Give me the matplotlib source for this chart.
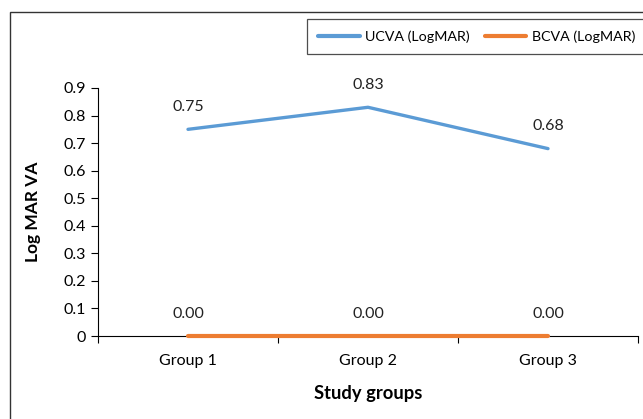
import matplotlib.pyplot as plt
from matplotlib.patches import Rectangle

plt.rcParams['font.family'] = ['Lato', 'DejaVu Sans']

grupos = ["Group 1", "Group 2", "Group 3"]
ucva = [0.75, 0.83, 0.68]
bcva = [0.00, 0.00, 0.00]

fig = plt.figure(figsize=(6.43, 4.19), dpi=100)
ax = fig.add_axes([98 / 643, 1 - 336 / 419, 540 / 643, 248 / 419])

x = range(len(grupos))
ax.plot(x, ucva, color="#5B9BD5", linewidth=2.4, label="UCVA (LogMAR)",
        solid_capstyle="round", clip_on=False)
ax.plot(x, bcva, color="#ED7D31", linewidth=3.0, label="BCVA (LogMAR)",
        solid_capstyle="round", clip_on=False, zorder=3)

# rótulos de valor acima de cada ponto
for i in x:
    ax.annotate(f"{ucva[i]:.2f}", (i, ucva[i]), xytext=(0, 16), textcoords="offset points",
                ha="center", va="center", fontsize=11.5, color="#222222")
    ax.annotate(f"{bcva[i]:.2f}", (i, bcva[i]), xytext=(0, 16), textcoords="offset points",
                ha="center", va="center", fontsize=11.5, color="#222222")

ax.set_xlim(-0.5, 2.5)
ax.set_ylim(0, 0.9)
ax.set_yticks([i / 10 for i in range(10)])
ax.set_yticklabels(["0"] + [f"{i / 10:.1f}" for i in range(1, 10)])
ax.set_xticks(list(x))
ax.set_xticklabels(grupos)
ax.set_xticks([-0.5, 0.5, 1.5, 2.5], minor=True)
ax.tick_params(axis="x", which="major", length=0, pad=13, labelsize=11.5)
ax.tick_params(axis="x", which="minor", length=5, direction="out", width=0.8)
ax.tick_params(axis="y", length=5, width=0.8, labelsize=11.5, pad=4)

for s in ["top", "right"]:
    ax.spines[s].set_visible(False)
ax.spines["left"].set_linewidth(0.8)
ax.spines["bottom"].set_linewidth(0.8)

ax.set_ylabel("Log MAR VA", fontsize=12.5, fontweight="bold", labelpad=16)
ax.set_xlabel("Study groups", fontsize=13.2, fontweight="bold", labelpad=12)

leg = fig.legend(loc="upper right", bbox_to_anchor=(647 / 643, 1 - 19 / 419), ncol=2,
                 fontsize=10.3, frameon=True, fancybox=False, handlelength=2.9,
                 columnspacing=1.05, borderpad=0.8, borderaxespad=0, handletextpad=0.4)
leg.get_frame().set_edgecolor("#222222")
leg.get_frame().set_linewidth(0.9)
for h in leg.get_lines():
    h.set_linewidth(3.0)

# moldura do gráfico
fig.patches.append(Rectangle((10 / 643, -0.05), 1.1, 1 - 12 / 419 + 0.05,
                             transform=fig.transFigure, fill=False,
                             edgecolor="#333333", linewidth=1.0, clip_on=False))

fig.savefig("out.png", dpi=100)
